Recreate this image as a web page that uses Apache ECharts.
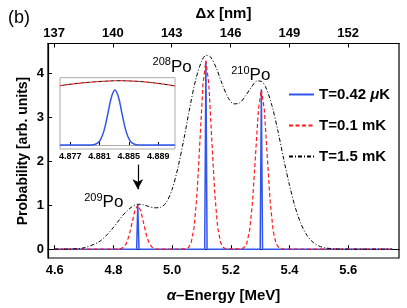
<!DOCTYPE html>
<html>
<head>
<meta charset="utf-8">
<script src="https://cdn.jsdelivr.net/npm/echarts@6/dist/echarts.min.js"></script>
<style>
html,body{margin:0;padding:0;background:#fff;}
#c{width:407px;height:308px;}
</style>
</head>
<body>
<div id="c"></div>
<script>
// ---- data ----
const seriesNames = ['T=0.42 μK', 'T=0.1 mK', 'T=1.5 mK'];
const energyTicks = [4.6, 4.8, 5.0, 5.2, 5.4, 5.6];
const dxTicks = [137, 140, 143, 146, 149, 152];
const probTicks = [0, 1, 2, 3, 4];
const insetTicks = [4.877, 4.881, 4.885, 4.889];
const isotopes = ['208', '210', '209'];

// T = 0.42 uK (blue): very narrow peaks
const blueMain = [[4.6,0],[4.879,0],[4.881,0.5],[4.883,1.0],[4.885,0.5],[4.887,0],
  [5.111,0],[5.113,2.15],[5.115,4.26],[5.117,2.15],[5.119,0],
  [5.300,0],[5.302,1.81],[5.304,3.62],[5.306,1.81],[5.308,0],[5.75,0]];

// T = 0.1 mK (red dashed)
const redMain = [[4.6,0],[4.813,0.001],[4.823,0.008],[4.833,0.035],[4.843,0.117],[4.853,0.299],[4.863,0.584],[4.873,0.874],[4.883,1.0],
  [4.893,0.874],[4.903,0.584],[4.913,0.299],[4.923,0.117],[4.933,0.035],[4.943,0.008],[4.953,0.001],
  [5.045,0.006],[5.055,0.034],[5.065,0.15],[5.075,0.50],[5.085,1.28],[5.095,2.50],[5.105,3.74],[5.115,4.28],
  [5.125,3.74],[5.135,2.50],[5.145,1.28],[5.155,0.50],[5.165,0.15],[5.175,0.034],[5.185,0.006],
  [5.234,0.005],[5.244,0.029],[5.254,0.127],[5.264,0.425],[5.274,1.085],[5.284,2.12],[5.294,3.17],[5.304,3.63],
  [5.314,3.17],[5.324,2.12],[5.334,1.085],[5.344,0.425],[5.354,0.127],[5.364,0.029],[5.374,0.005],[5.75,0]];

// T = 1.5 mK (black dash-dot)
const blackMain = [[4.6,0],[4.65,0.004],[4.70,0.033],[4.75,0.164],[4.78,0.339],[4.80,0.495],[4.82,0.667],[4.84,0.828],
  [4.86,0.947],[4.883,1.02],[4.90,1.01],[4.92,0.97],[4.94,0.94],[4.96,0.95],[4.98,1.06],[5.00,1.36],[5.02,1.86],
  [5.04,2.50],[5.06,3.21],[5.08,3.84],[5.10,4.26],[5.115,4.40],[5.13,4.37],[5.15,4.12],[5.17,3.76],[5.19,3.45],
  [5.21,3.30],[5.23,3.32],[5.25,3.48],[5.27,3.68],[5.29,3.82],[5.304,3.81],[5.32,3.66],[5.34,3.26],[5.36,2.70],
  [5.38,2.05],[5.40,1.45],[5.42,0.937],[5.44,0.56],[5.46,0.309],[5.48,0.157],[5.50,0.073],[5.52,0.032],
  [5.55,0.008],[5.60,0],[5.75,0]];

// inset (zoom on the 209Po line)
const blueInset = [[4.8756,0],[4.8796,0.0006],[4.8801,0.0044],[4.8806,0.023],[4.8811,0.089],[4.8816,0.257],
  [4.8821,0.547],[4.8826,0.86],[4.8831,1.0],[4.8836,0.86],[4.8841,0.547],[4.8846,0.257],[4.8851,0.089],
  [4.8856,0.023],[4.8861,0.0044],[4.8866,0.0006],[4.8913,0]];
const redInset = [[4.8756,1.08],[4.878,1.12],[4.880,1.145],[4.882,1.162],[4.8835,1.169],[4.885,1.165],[4.887,1.15],[4.889,1.12],[4.8913,1.075]];
const blackInset = [[4.8756,1.08],[4.878,1.12],[4.880,1.145],[4.882,1.162],[4.8835,1.169],[4.885,1.165],[4.887,1.15],[4.889,1.12],[4.8913,1.075]];

// ---- chart ----
const FONT = '"Liberation Sans", Arial, sans-serif';
const BLUE = '#3355ee', RED = '#ff1a1a', BLACK = '#000';
const chart = echarts.init(document.getElementById('c'), null, {renderer: 'canvas'});

const tickLbl = {fontFamily: FONT, fontWeight: 'bold', fontSize: 13, color: '#000'};
const poRich = {
  sup: {fontFamily: FONT, fontSize: 11, color: '#000', verticalAlign: 'top', lineHeight: 19},
  po: {fontFamily: FONT, fontSize: 17, color: '#000', lineHeight: 19, verticalAlign: 'bottom'}
};

chart.setOption({
  animation: false,
  backgroundColor: '#fff',
  graphic: [
    {type: 'text', left: 8, top: 9, style: {text: '(b)', font: '18px ' + FONT, fill: '#000'}},
    {type: 'text', x: 23, y: 151, rotation: Math.PI / 2,
     style: {text: 'Probability [arb. units]', font: 'bold 14px ' + FONT, fill: '#000', align: 'center', verticalAlign: 'middle'}}
  ],
  grid: [
    {left: 48, right: 8, top: 43.5, bottom: 49, show: true, borderColor: '#000', borderWidth: 1.2},
    {left: 60, top: 77.7, width: 115, height: 71.3, show: true, borderColor: '#aaa', borderWidth: 1, backgroundColor: '#fff', z: 5}
  ],
  legend: {
    data: seriesNames, orient: 'vertical', left: 288, top: 87, padding: 0, itemWidth: 25, itemHeight: 15, itemGap: 16,
    itemStyle: {opacity: 0},
    textStyle: {fontFamily: FONT, fontWeight: 'bold', fontSize: 15, color: '#000', lineHeight: 15,
      rich: {b: {fontFamily: FONT, fontWeight: 'bold', fontSize: 15, color: '#000'},
             i: {fontFamily: FONT, fontWeight: 'bold', fontStyle: 'italic', fontSize: 15, color: '#000'}}},
    formatter: function (n) {
      if (n.indexOf('μ') >= 0) { const p = n.split('μ'); return '{b|' + p[0] + '}{i|μ}{b|' + p[1] + '}'; }
      return '{b|' + n + '}';
    }
  },
  xAxis: [
    {gridIndex: 0, type: 'value', position: 'bottom', min: 4.577, max: 5.773,
     name: '{i|α}{b|–Energy [MeV]}', nameLocation: 'middle', nameGap: 30,
     nameTextStyle: {rich: {i: {fontFamily: FONT, fontWeight: 'bold', fontStyle: 'italic', fontSize: 15, color: '#000'},
                             b: {fontFamily: FONT, fontWeight: 'bold', fontSize: 15, color: '#000'}}},
     axisLine: {lineStyle: {color: '#000', width: 1.2}},
     axisTick: {inside: true, length: 4, customValues: energyTicks, lineStyle: {color: '#000'}},
     axisLabel: Object.assign({customValues: energyTicks, margin: 6, formatter: v => v.toFixed(1)}, tickLbl),
     splitLine: {show: false}},
    {gridIndex: 0, type: 'value', position: 'top', min: 136.69, max: 154.59,
     name: 'Δx [nm]', nameLocation: 'middle', nameGap: 22,
     nameTextStyle: {fontFamily: FONT, fontWeight: 'bold', fontSize: 15, color: '#000'},
     axisLine: {lineStyle: {color: '#000', width: 1.2}},
     axisTick: {inside: true, length: 4, customValues: dxTicks, lineStyle: {color: '#000'}},
     axisLabel: Object.assign({customValues: dxTicks, margin: 4, formatter: v => String(Math.round(v))}, tickLbl),
     splitLine: {show: false}},
    {gridIndex: 1, type: 'value', position: 'bottom', min: 4.8756, max: 4.8913, z: 6,
     axisLine: {lineStyle: {color: '#aaa', width: 1}},
     axisTick: {inside: true, length: 3, customValues: insetTicks, lineStyle: {color: '#000'}},
     axisLabel: {customValues: insetTicks, margin: 3, formatter: v => v.toFixed(3),
                 fontFamily: FONT, fontWeight: 'bold', fontSize: 9, color: '#000'},
     splitLine: {show: false}}
  ],
  yAxis: [
    {gridIndex: 0, type: 'value', min: -0.2, max: 4.67,
     axisLine: {lineStyle: {color: '#000', width: 1.2}},
     axisTick: {inside: true, length: 4, customValues: probTicks, lineStyle: {color: '#000'}},
     axisLabel: Object.assign({customValues: probTicks, margin: 4}, tickLbl),
     splitLine: {show: false}},
    {gridIndex: 1, type: 'value', min: -0.073, max: 1.224, z: 6,
     axisLine: {show: false}, axisTick: {show: false}, axisLabel: {show: false}, splitLine: {show: false}}
  ],
  series: [
    {name: seriesNames[0], type: 'line', xAxisIndex: 0, yAxisIndex: 0, data: blueMain, symbol: 'none',
     lineStyle: {color: BLUE, width: 1.5}, itemStyle: {color: BLUE}, z: 2},
    {name: seriesNames[1], type: 'line', xAxisIndex: 0, yAxisIndex: 0, data: redMain, symbol: 'none',
     lineStyle: {color: RED, width: 1.2, type: [4, 2.5]}, itemStyle: {color: RED}, z: 3},
    {name: seriesNames[2], type: 'line', xAxisIndex: 0, yAxisIndex: 0, data: blackMain, symbol: 'none', smooth: 0.3,
     lineStyle: {color: BLACK, width: 1, type: [4, 2, 1, 2]}, itemStyle: {color: BLACK}, z: 4,
     markLine: {silent: true, symbol: ['none', 'arrow'], symbolSize: [8, 10], label: {show: false},
       lineStyle: {color: '#000', width: 1.2, type: 'solid'},
       data: [[{coord: [4.883, 1.92]}, {coord: [4.883, 1.36]}]]},
     markPoint: {silent: true, symbol: 'rect', symbolSize: 1, itemStyle: {color: 'rgba(0,0,0,0)'},
       label: {show: true, position: 'inside', rich: poRich, formatter: p => '{sup|' + p.name + '}{po|Po}'},
       data: [{name: isotopes[0], coord: [5.0, 4.15]}, {name: isotopes[1], coord: [5.268, 3.96]}, {name: isotopes[2], coord: [4.767, 1.08]}]}},
    {name: 'insetBlue', type: 'line', xAxisIndex: 2, yAxisIndex: 1, data: blueInset, symbol: 'none', smooth: 0.4,
     lineStyle: {color: BLUE, width: 1.5}, z: 7},
    {name: 'insetRed', type: 'line', xAxisIndex: 2, yAxisIndex: 1, data: redInset, symbol: 'none', smooth: 0.5,
     lineStyle: {color: RED, width: 1.2, type: [3, 3]}, z: 7},
    {name: 'insetBlack', type: 'line', xAxisIndex: 2, yAxisIndex: 1, data: blackInset, symbol: 'none', smooth: 0.5,
     lineStyle: {color: BLACK, width: 1, type: [3, 3], dashOffset: 3}, z: 7}
  ]
});
</script>
</body>
</html>
